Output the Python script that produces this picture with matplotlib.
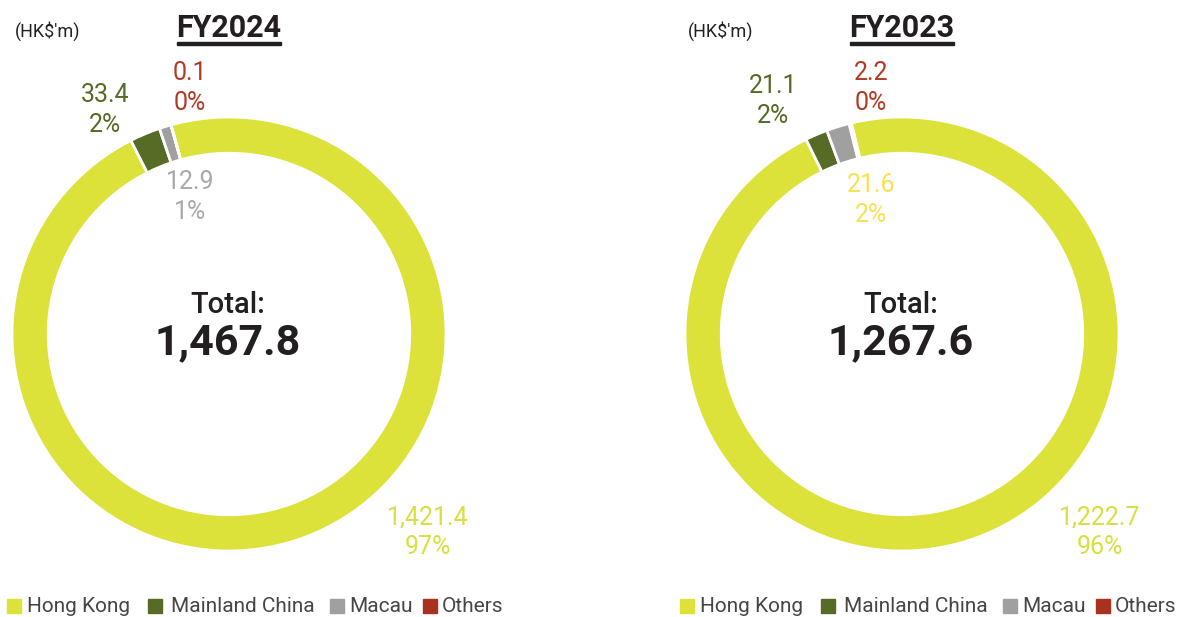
import numpy as np
from matplotlib import pyplot as plt
from matplotlib.patches import Rectangle

plt.rcParams['font.family'] = ['Roboto', 'DejaVu Sans']

W, H = 1178, 617

regions = ['Hong Kong', 'Mainland China', 'Macau', 'Others']
fy2024_values = [1421.4, 33.4, 12.9, 0.1]
fy2024_labels = ['1,421.4\n97%', '33.4\n2%', '12.9\n1%', '0.1\n0%']
fy2023_values = [1222.7, 21.1, 21.6, 2.2]
fy2023_labels = ['1,222.7\n96%', '21.1\n2%', '21.6\n2%', '2.2\n0%']
totals = ['1,467.8', '1,267.6']
years = ['FY2024', 'FY2023']

colors = ['#dce23a', '#566b26', '#a0a0a0', '#a8321e']
label_colors_2024 = ['#d8df3e', '#566b26', '#a9a9a9', '#b23a24']
label_colors_2023 = ['#d8df3e', '#566b26', '#f7e150', '#b23a24']
dark = '#231f20'


def fx(px):
    return px / W


def fy(py):
    return 1 - py / H


def donut(fig, cx, cy, r, values, startangle):
    ax = fig.add_axes([fx(cx - r), fy(cy + r), 2 * r / W, 2 * r / H])
    wedges, _ = ax.pie(values, colors=colors, startangle=startangle, counterclock=False,
                       radius=1, wedgeprops=dict(width=0.167, edgecolor='white', linewidth=2))
    for w in wedges:
        w.set_clip_on(False)
    ax.set_xlim(-1, 1)
    ax.set_ylim(-1, 1)
    ax.set_aspect('equal')
    ax.axis('off')
    return ax


def panel(fig, dx, values, labels, lcolors, total, year, startangle, label_pos):
    donut(fig, 229 + dx, 334, 217, values, startangle)

    fig.text(fx(15 + dx), fy(31), "(HK$'m)", fontsize=13, color=dark, ha='left', va='center')
    fig.text(fx(229 + dx), fy(28), year, fontsize=22, fontweight='bold', color=dark,
             ha='center', va='center')
    fig.add_artist(Rectangle((fx(177 + dx), fy(45)), fx(104), 3 / H,
                             transform=fig.transFigure, color=dark))

    for (x, y), lab, c in zip(label_pos, labels, lcolors):
        fig.text(fx(x + dx), fy(y), lab, fontsize=18, color=c, ha='center', va='center',
                 linespacing=1.3)

    fig.text(fx(228 + dx), fy(305), 'Total:', fontsize=21, fontweight='medium', color=dark,
             ha='center', va='center')
    fig.text(fx(228 + dx), fy(343), total, fontsize=31, fontweight='bold', color=dark,
             ha='center', va='center')

    # legend
    sq_x = [7, 148, 330, 423]
    txt_x = [27, 171, 349, 442]
    for sx, tx, name, c in zip(sq_x, txt_x, regions, colors):
        fig.add_artist(Rectangle((fx(sx + dx), fy(613)), fx(14), 14 / H,
                                 transform=fig.transFigure, color=c))
        fig.text(fx(tx + dx), fy(606), name, fontsize=15, color='#4a4545',
                 ha='left', va='center')


fig = plt.figure(figsize=(W / 100, H / 100), dpi=100)

panel(fig, 0, fy2024_values, fy2024_labels, label_colors_2024, totals[0], years[0], 105.5,
      [(428, 532), (105, 110), (190, 197), (190, 88)])
panel(fig, 673, fy2023_values, fy2023_labels, label_colors_2023, totals[1], years[1], 103.5,
      [(427, 532), (100, 101), (198, 200), (198, 88)])

fig.savefig('out.png', dpi=100)
